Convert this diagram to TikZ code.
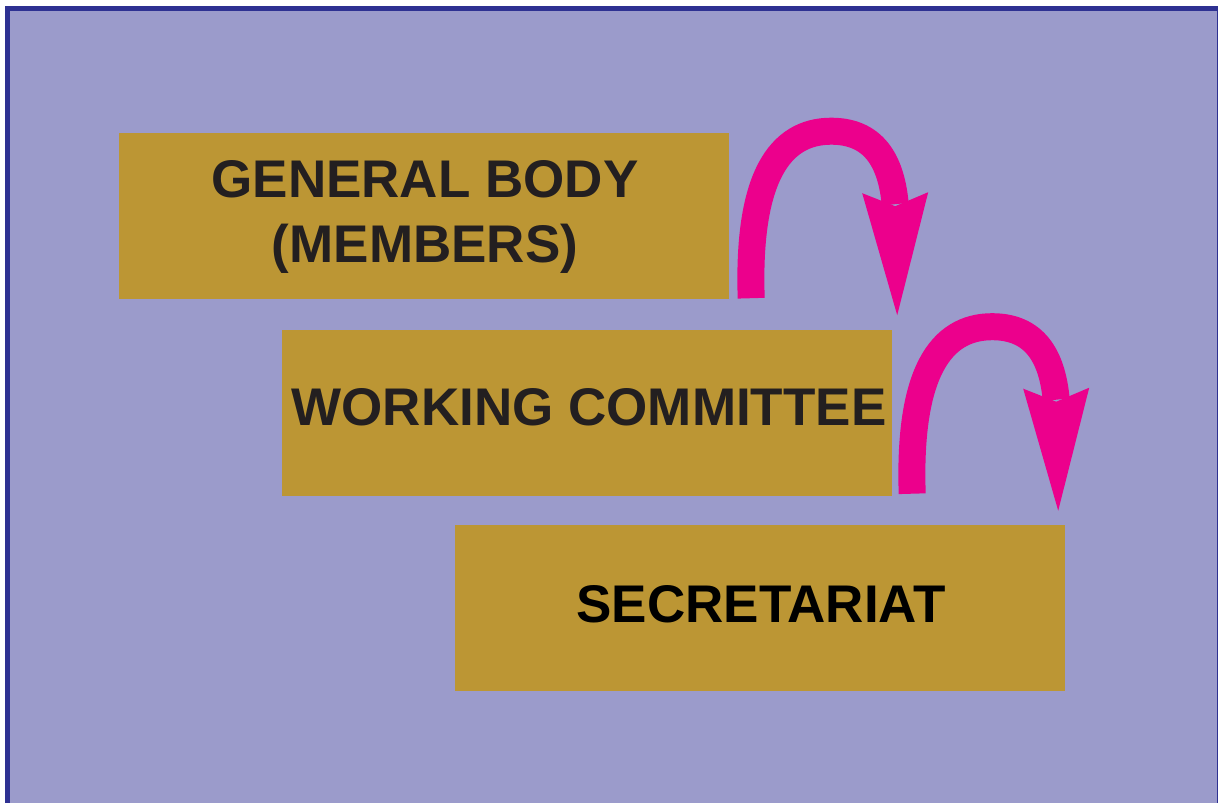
\documentclass[tikz,border=0pt]{standalone}
\usepackage{fontspec}
\setmainfont{Liberation Sans}
\definecolor{bgLav}{RGB}{155,155,203}
\definecolor{frameBlue}{RGB}{46,49,146}
\definecolor{boxGold}{RGB}{188,150,52}
\definecolor{arrMag}{RGB}{236,0,140}
\definecolor{txtDark}{RGB}{35,31,32}
\tikzset{
  gbox/.style={fill=boxGold, draw=none, minimum width=610pt, minimum height=166pt, inner sep=0pt},
  btxt/.style={anchor=base, inner sep=0pt, font=\bfseries\fontsize{53}{65}\selectfont, text=txtDark},
  shaft/.style={draw=arrMag, line width=27pt, line cap=butt, line join=round},
  curvarrow/.pic={
    \draw[shaft] (0,0) .. controls (-4,-120) and (28,-167) .. (80,-167)
                 .. controls (122,-167) and (140,-138) .. (144,-94);
    \fill[arrMag] (111,-105) -- (146,17) -- (177,-106) -- (144,-92) -- cycle;
  }
}
\begin{document}
\begin{tikzpicture}[x=1pt,y=-1pt]
\useasboundingbox (0,0) rectangle (1218,803);
\fill[white] (0,0) rectangle (1218,803);
\fill[frameBlue] (5,6) rectangle (1218,803);
\fill[bgLav] (10,11) rectangle (1216.5,803);
% boxes
\node[gbox] (b1) at (424,216) {};
\node[gbox] (b2) at (587,412.5) {};
\node[gbox] (b3) at (759.5,608) {};
% texts
\node[btxt] (t1a) at (425,197.5) {GENERAL BODY};
\node[btxt] (t1b) at (425,262.5) {(MEMBERS)};
\node[btxt] (t2) at (589,425) {WORKING COMMITTEE};
\node[btxt, text=black] (t3) at (761,622.5) {SECRETARIAT};
% arrows
\coordinate (a1) at ([xshift=22pt,yshift=1pt]b1.south east);
\coordinate (a2) at ([xshift=20pt,yshift=2pt]b2.south east);
\pic (arr1) at (a1) {curvarrow};
\pic (arr2) at (a2) {curvarrow};
\end{tikzpicture}
\end{document}
